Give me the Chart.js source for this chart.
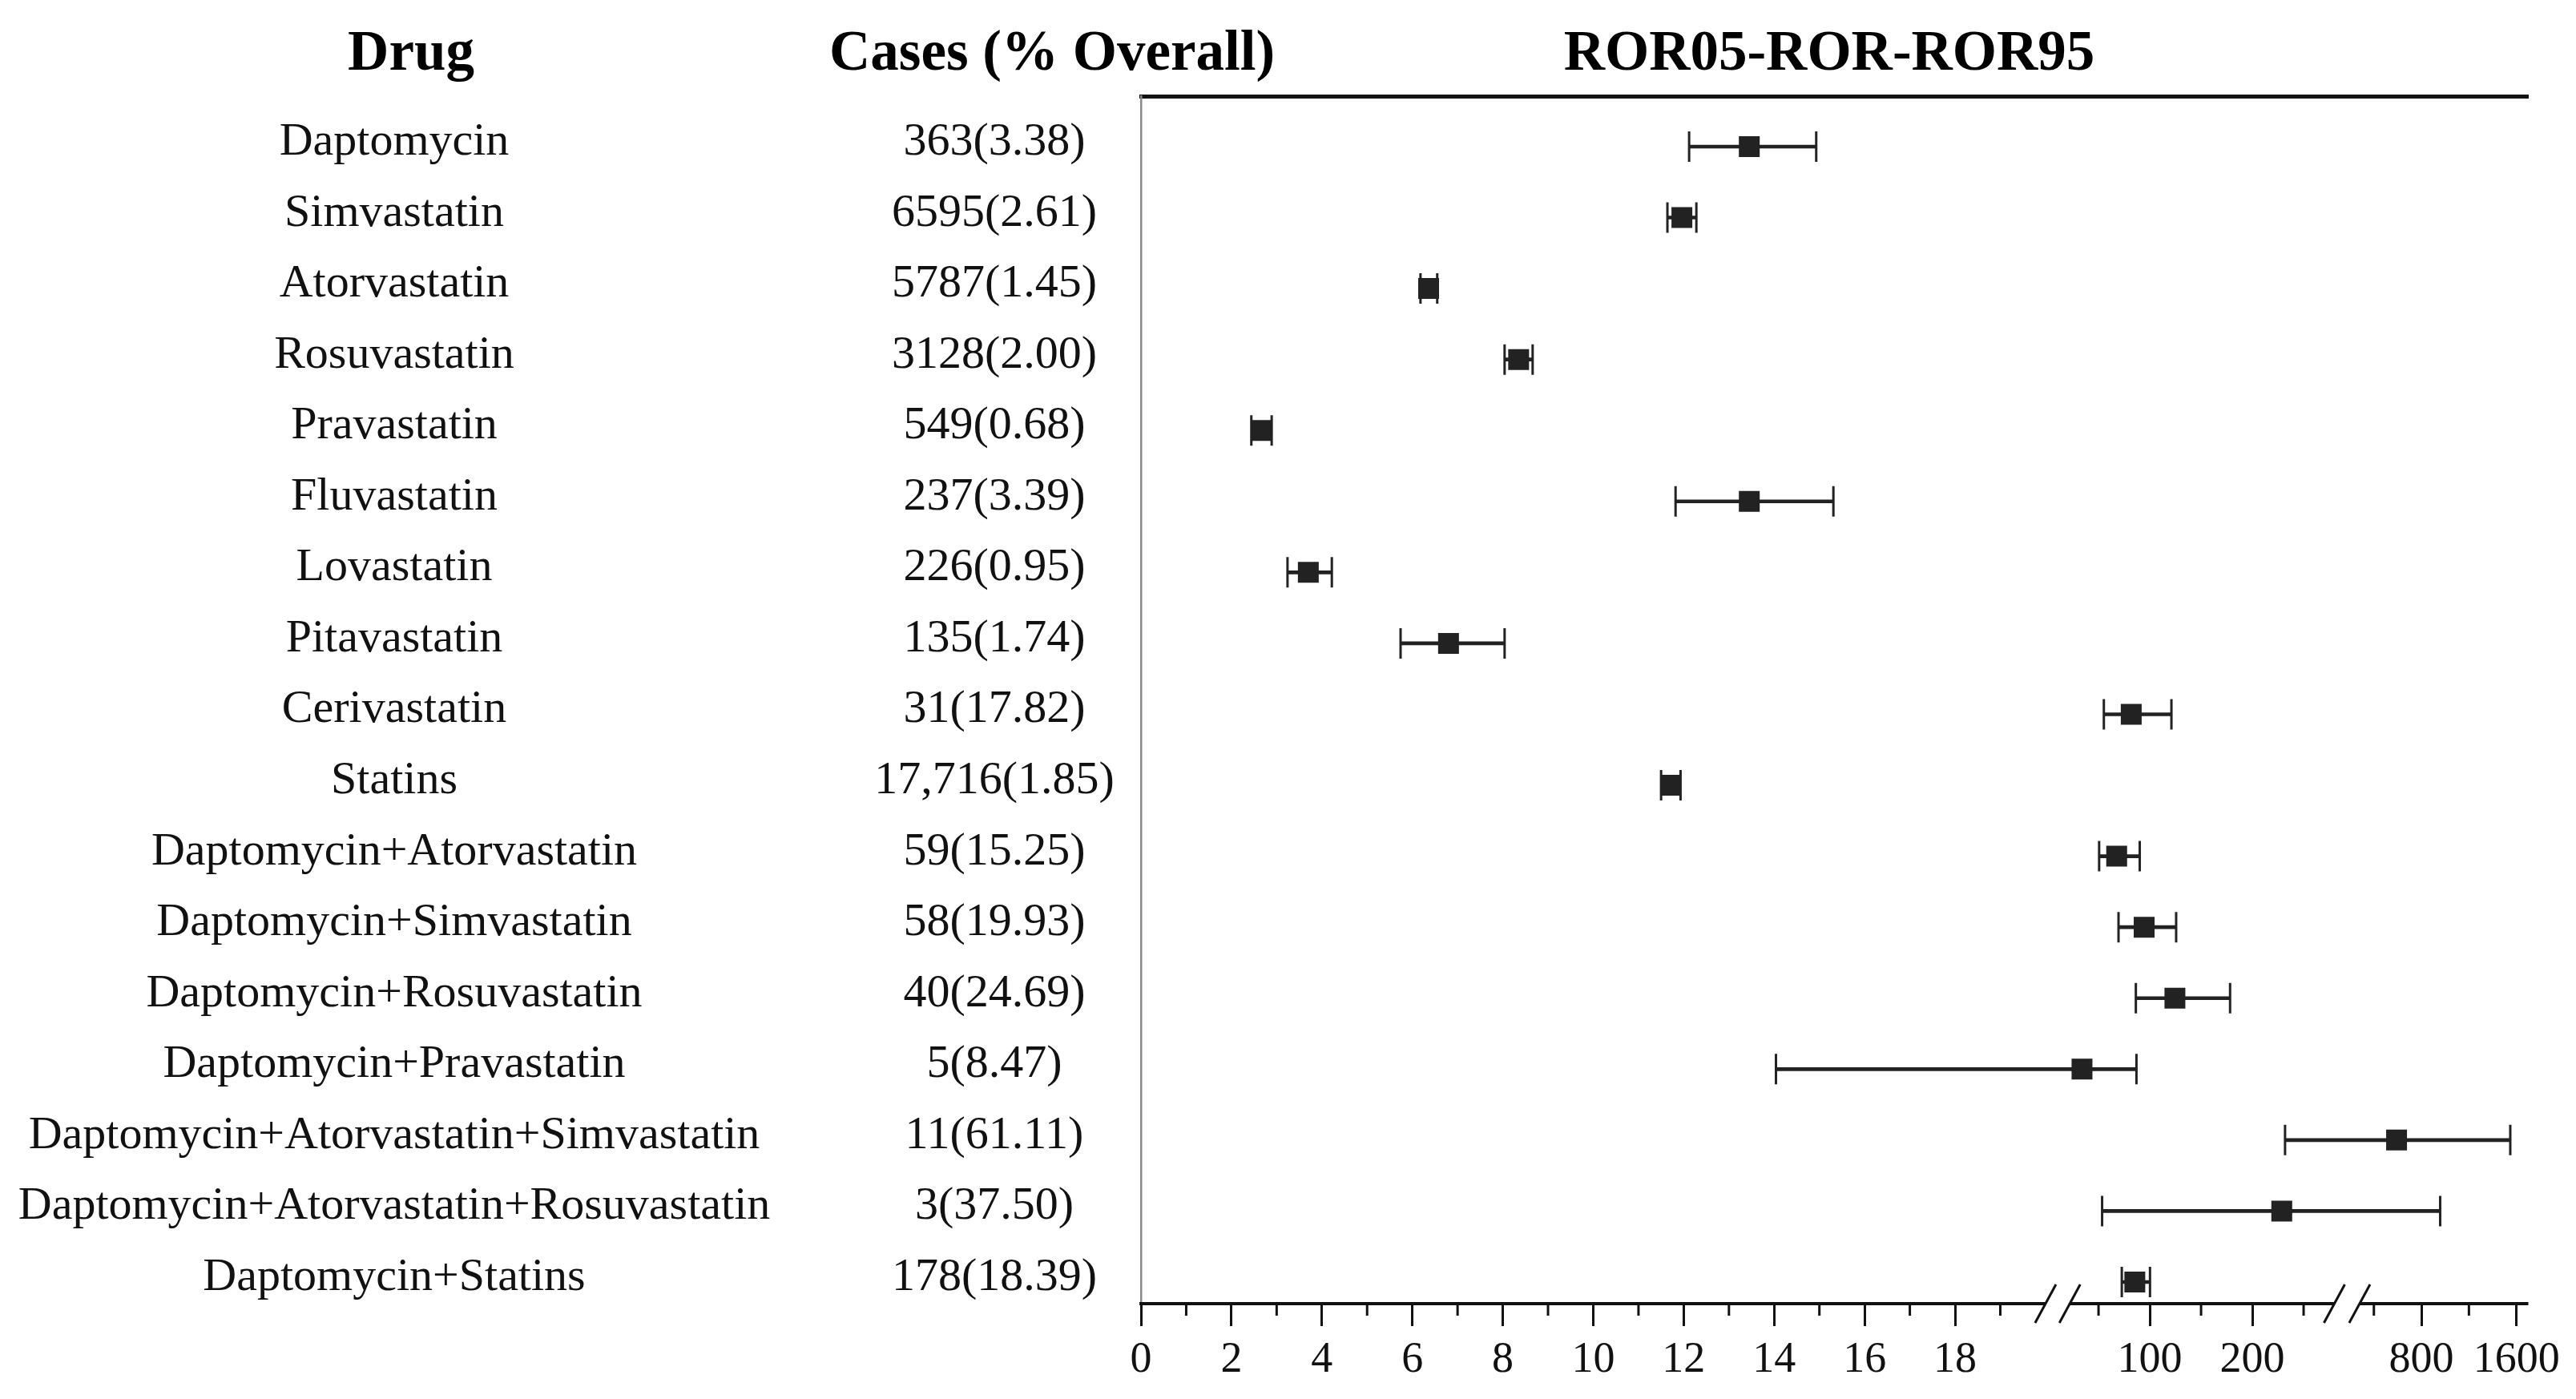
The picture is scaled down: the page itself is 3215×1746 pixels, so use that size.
<!DOCTYPE html>
<html><head><meta charset="utf-8">
<script src="https://cdn.jsdelivr.net/npm/chart.js@4.4.1/dist/chart.umd.min.js"></script>
<style>html,body{margin:0;padding:0;background:#fff;overflow:hidden}#wrap{width:3215px;height:1746px;position:relative}</style>
</head><body><div id="wrap"><canvas id="c"></canvas></div>
<script>
const drugs = ['Daptomycin','Simvastatin','Atorvastatin','Rosuvastatin','Pravastatin','Fluvastatin','Lovastatin','Pitavastatin','Cerivastatin','Statins','Daptomycin+Atorvastatin','Daptomycin+Simvastatin','Daptomycin+Rosuvastatin','Daptomycin+Pravastatin','Daptomycin+Atorvastatin+Simvastatin','Daptomycin+Atorvastatin+Rosuvastatin','Daptomycin+Statins'];
const cases = ['363(3.38)','6595(2.61)','5787(1.45)','3128(2.00)','549(0.68)','237(3.39)','226(0.95)','135(1.74)','31(17.82)','17,716(1.85)','59(15.25)','58(19.93)','40(24.69)','5(8.47)','11(61.11)','3(37.50)','178(18.39)'];
const ror     = [13.45, 11.96, 6.36, 8.35, 2.66, 13.45, 3.70, 6.80, 81.9, 11.71, 67.7, 94.5, 124.5, 33.9, 591, 228.7, 85.4];
const rorLow  = [12.12, 11.64, 6.18, 8.04, 2.44, 11.82, 3.24, 5.74, 55.2, 11.50, 50.6, 69.5, 86.4, 14.04, 231.9, 53.5, 72.7];
const rorHigh = [14.93, 12.28, 6.55, 8.66, 2.89, 15.31, 4.22, 8.04, 121.1, 11.93, 90.2, 125.7, 178.3, 87.0, 1548, 958, 100.2];
const majorTicks = [0,2,4,6,8,10,12,14,16,18,100,200,800,1600];
const tickLabels = ['0','2','4','6','8','10','12','14','16','18','100','200','800','1600'];
const minorTicks = [1,3,5,7,9,11,13,15,17,19,50,150,250,400,1200];
const axisSegments = [
  {min:0,   max:20,   from:0,      to:0.6520},
  {min:22,  max:280,  from:0.6695, to:0.8602},
  {min:280, max:1700, from:0.8784, to:1}
];
const headers = ['Drug','Cases (% Overall)','ROR05-ROR-ROR95'];

class BrokenLinearScale extends Chart.LinearScale {
  determineDataLimits() { this.min = 0; this.max = 1700; }
  buildTicks() { return majorTicks.map(v => ({value: v})); }
  getPixelForValue(value) {
    if (value === null || value === undefined || isNaN(value)) return NaN;
    let s = axisSegments[axisSegments.length - 1];
    for (const seg of axisSegments) { if (value <= seg.max) { s = seg; break; } }
    let t = (value - s.min) / (s.max - s.min);
    t = Math.max(0, Math.min(1, t));
    return this.getPixelForDecimal(s.from + t * (s.to - s.from));
  }
  getValueForPixel(pixel) {
    const d = this.getDecimalForPixel(pixel);
    let s = axisSegments[axisSegments.length - 1];
    for (const seg of axisSegments) { if (d <= seg.to) { s = seg; break; } }
    let t = (d - s.from) / (s.to - s.from);
    t = Math.max(0, Math.min(1, t));
    return s.min + t * (s.max - s.min);
  }
}
BrokenLinearScale.id = 'brokenLinear';
BrokenLinearScale.defaults = {};
Chart.register(BrokenLinearScale);

const INK = '#222222';
const serif = "'Liberation Serif', 'Times New Roman', serif";

const decorPlugin = {
  id: 'decor',
  afterDraw(chart) {
    const ctx = chart.ctx;
    const x = chart.scales.x, y = chart.scales.y;
    const ca = chart.chartArea;
    const y0 = ca.bottom;
    ctx.save();
    ctx.strokeStyle = '#111';
    ctx.lineWidth = 4;
    ctx.lineCap = 'butt';
    axisSegments.forEach((s, i) => {
      const a = x.getPixelForDecimal(s.from) - (i === 0 ? 2 : 0);
      const b = x.getPixelForDecimal(s.to);
      ctx.beginPath(); ctx.moveTo(a, y0); ctx.lineTo(b, y0); ctx.stroke();
    });
    ctx.lineWidth = 3;
    for (let i = 0; i < axisSegments.length - 1; i++) {
      [axisSegments[i].to, axisSegments[i + 1].from].forEach(dec => {
        const px = x.getPixelForDecimal(dec);
        ctx.beginPath(); ctx.moveTo(px - 13, y0 + 24); ctx.lineTo(px + 13, y0 - 24); ctx.stroke();
      });
    }
    minorTicks.forEach(v => {
      const px = x.getPixelForValue(v);
      ctx.beginPath(); ctx.moveTo(px, y0); ctx.lineTo(px, y0 + 15); ctx.stroke();
    });
    ctx.fillStyle = '#000';
    ctx.textBaseline = 'alphabetic';
    ctx.textAlign = 'center';
    ctx.font = 'bold 71px ' + serif;
    const hx = [513, 1313, 2283];
    headers.forEach((h, i) => ctx.fillText(h, hx[i], 87));
    ctx.font = '58px ' + serif;
    ctx.fillStyle = '#111';
    drugs.forEach((d, i) => {
      const py = y.getPixelForValue(i) + 10;
      ctx.fillText(d, 492, py);
      ctx.fillText(cases[i], 1241, py);
    });
    ctx.restore();
  }
};

new Chart(document.getElementById('c'), {
  type: 'scatter',
  data: {
    datasets: [
      {
        type: 'scatter', label: 'ROR', order: 0,
        data: ror.map((v, i) => ({x: v, y: i})),
        pointStyle: 'rect', pointRadius: 18.4, backgroundColor: INK, borderWidth: 0,
        xAxisID: 'x', yAxisID: 'y'
      },
      {
        type: 'scatter', label: 'ROR05', order: 1,
        data: rorLow.map((v, i) => ({x: v, y: i})),
        pointStyle: 'line', pointRotation: 90, pointRadius: 19, borderColor: INK, borderWidth: 3,
        xAxisID: 'x', yAxisID: 'y'
      },
      {
        type: 'scatter', label: 'ROR95', order: 1,
        data: rorHigh.map((v, i) => ({x: v, y: i})),
        pointStyle: 'line', pointRotation: 90, pointRadius: 19, borderColor: INK, borderWidth: 3,
        xAxisID: 'x', yAxisID: 'y'
      },
      {
        type: 'bar', label: 'CI', order: 2, indexAxis: 'y',
        data: rorLow.map((v, i) => ({y: i, x: [v, rorHigh[i]]})),
        barThickness: 4, backgroundColor: INK, borderWidth: 0, borderSkipped: false, grouped: false,
        xAxisID: 'x', yAxisID: 'y'
      }
    ]
  },
  options: {
    responsive: true, maintainAspectRatio: false, animation: false, events: [],
    layout: {padding: {left: 1424, right: 59.5, top: 120, bottom: 0}},
    plugins: {legend: {display: false}, tooltip: {enabled: false}},
    scales: {
      x: {
        type: 'brokenLinear', position: 'bottom', offset: false, beginAtZero: false,
        border: {display: false},
        grid: {display: true, offset: false, drawOnChartArea: false, drawTicks: true, tickLength: 28, tickWidth: 3, tickColor: '#111'},
        ticks: {autoSkip: false, maxRotation: 0, minRotation: 0, padding: 10, color: '#111',
          font: {family: serif, size: 54}, callback: (v, i) => tickLabels[i]},
        afterFit: (s) => { s.height = 119; }
      },
      xTop: {
        type: 'linear', position: 'top', min: 0, max: 1, offset: false,
        grid: {display: false}, ticks: {display: false},
        border: {display: true, color: '#111', width: 5},
        afterFit: (s) => { s.height = 0; }
      },
      y: {
        type: 'linear', position: 'left', min: -0.711, max: 16.305, reverse: true, offset: false,
        grid: {display: false, offset: false}, ticks: {display: false},
        border: {display: true, color: '#8a8a8a', width: 2.5},
        afterFit: (s) => { s.width = 0; }
      }
    }
  },
  plugins: [decorPlugin]
});
</script></body></html>
